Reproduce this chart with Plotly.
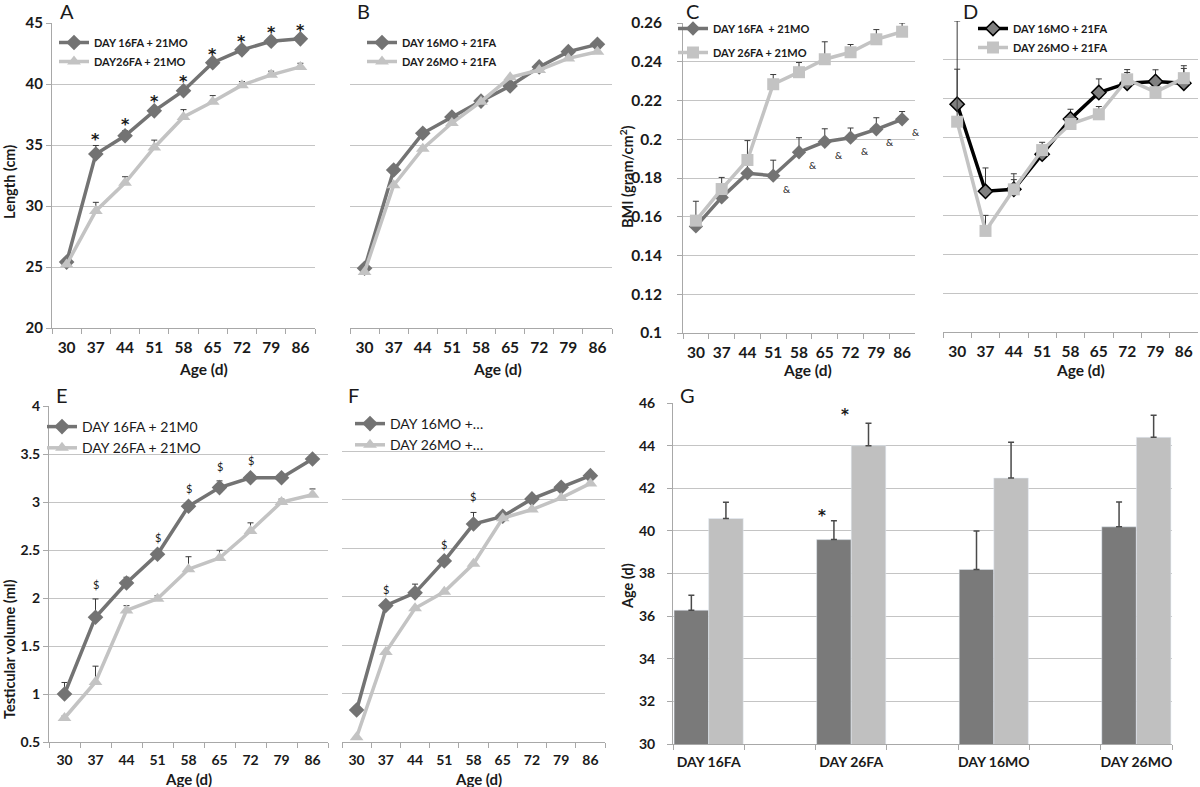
import plotly.graph_objects as go

# ---------------- data ----------------
ages = ["30", "37", "44", "51", "58", "65", "72", "79", "86"]

# Panel A - Length (cm)
a_16fa = [25.4, 34.26, 35.76, 37.8, 39.45, 41.75, 42.8, 43.5, 43.7]
a_16fa_err = [0.2, 0.7, 0.4, 0.25, 0.25, 0.2, 0.2, 0.2, 0.2]
a_26fa = [25.2, 29.6, 31.9, 34.8, 37.3, 38.55, 39.9, 40.75, 41.4]
a_26fa_err = [0.2, 0.7, 0.5, 0.6, 0.6, 0.5, 0.3, 0.3, 0.3]
a_sig = ["", "*", "*", "*", "*", "*", "*", "*", "*"]

# Panel B - Length (cm)
b_16mo = [24.9, 32.95, 35.96, 37.3, 38.6, 39.84, 41.4, 42.65, 43.25]
b_26mo = [24.6, 31.7, 34.7, 36.8, 38.55, 40.55, 41.15, 42.1, 42.65]

# Panel C - BMI
c_16fa = [0.155, 0.170, 0.1824, 0.1812, 0.1933, 0.1987, 0.2008, 0.2051, 0.2103]
c_16fa_err = [0.0, 0.0, 0.008, 0.008, 0.0075, 0.0067, 0.005, 0.006, 0.004]
c_26fa = [0.158, 0.1743, 0.1893, 0.2284, 0.2346, 0.2413, 0.2449, 0.2516, 0.2555]
c_26fa_err = [0.01, 0.006, 0.01, 0.005, 0.005, 0.009, 0.004, 0.005, 0.0045]
c_sig = ["", "", "", "&", "&", "&", "&", "&", "&"]

# Panel D - BMI
d_16mo = [0.2172, 0.1724, 0.1734, 0.1915, 0.2096, 0.2232, 0.228, 0.2289, 0.228]
d_16mo_err = [0.0428, 0.012, 0.008, 0.004, 0.005, 0.007, 0.007, 0.006, 0.009]
d_26mo = [0.2082, 0.152, 0.1734, 0.1936, 0.207, 0.212, 0.23, 0.2234, 0.2306]
d_26mo_err = [0.027, 0.008, 0.005, 0.004, 0.002, 0.004, 0.0035, 0.0, 0.005]

# Panel E - Testicular volume (ml)
e_16fa = [1.0, 1.80, 2.156, 2.455, 2.955, 3.15, 3.253, 3.253, 3.448]
e_16fa_err = [0.12, 0.19, 0.06, 0.03, 0.04, 0.07, 0.03, 0.03, 0.04]
e_26fa = [0.75, 1.125, 1.87, 1.993, 2.30, 2.417, 2.698, 3.0, 3.076]
e_26fa_err = [0.02, 0.165, 0.05, 0.03, 0.13, 0.08, 0.085, 0.03, 0.06]
e_sig = ["", "$", "", "$", "$", "$", "$", "", ""]

# Panel F - Testicular volume (ml)
f_16mo = [0.83, 1.91, 2.04, 2.37, 2.75, 2.83, 3.01, 3.13, 3.25]
f_16mo_err = [0.0, 0.0, 0.09, 0.0, 0.12, 0.03, 0.0, 0.0, 0.0]
f_26mo = [0.55, 1.43, 1.88, 2.05, 2.34, 2.81, 2.90, 3.02, 3.17]
f_sig = ["", "$", "", "$", "$", "", "", "", ""]

# Panel G - Age (d)
g_groups = ["DAY 16FA", "DAY 26FA", "DAY 16MO", "DAY 26MO"]
g_dark = [36.28, 39.59, 38.19, 40.19]
g_dark_err = [0.7, 0.89, 1.8, 1.16]
g_light = [40.58, 44.0, 42.48, 44.39]
g_light_err = [0.76, 1.05, 1.68, 1.03]
g_sig_dark = ["", "*", "", ""]
g_sig_light = ["", "*", "", ""]

# ---------------- style ----------------
W, H = 1200, 787
FONT = "Lato"
TXT = "#1a1a1a"
GRID = "#c4c4c4"
AXL = "#a8a8a8"
DARK = "#737373"
LIGHT = "#c3c3c3"
ERRC = "#3a3a3a"


def fx(p):
    return p / W


def fy(p):
    return 1 - p / H


fig = go.Figure()


def add_line(ax, y, err, name, color, symbol, size, legend, lw=3.5, mline=None, mfill=None):
    n = len(y)
    kw = {}
    if err is not None:
        kw["error_y"] = dict(type="data", symmetric=False, array=err, arrayminus=[0] * n,
                             color=ERRC, thickness=1, width=3)
    fig.add_trace(go.Scatter(
        x=ages, y=y, name=name, mode="lines+markers",
        xaxis="x" + ("" if ax == 1 else str(ax)), yaxis="y" + ("" if ax == 1 else str(ax)),
        line=dict(color=color, width=lw),
        marker=dict(symbol=symbol, size=size, color=mfill or color,
                    line=dict(color=mline or color, width=1.5 if mline else 0)),
        legend=legend, legendgroup=name, **kw))


# A
add_line(1, a_16fa, a_16fa_err, "DAY 16FA + 21MO", DARK, "diamond", 12, "legend")
add_line(1, a_26fa, a_26fa_err, "DAY26FA + 21MO", LIGHT, "triangle-up", 12, "legend")
# B
add_line(2, b_16mo, None, "DAY 16MO + 21FA", DARK, "diamond", 12, "legend2")
add_line(2, b_26mo, None, "DAY 26MO + 21FA", LIGHT, "triangle-up", 12, "legend2")
# C
add_line(3, c_16fa, c_16fa_err, "DAY 16FA\u00a0 + 21MO", DARK, "diamond", 11, "legend3")
add_line(3, c_26fa, c_26fa_err, "DAY 26FA + 21MO", LIGHT, "square", 12, "legend3")
# D
add_line(4, d_16mo, d_16mo_err, "DAY 16MO + 21FA", "#000000", "diamond", 11, "legend4",
         mline="#000000", mfill="#808080")
add_line(4, d_26mo, d_26mo_err, "DAY 26MO + 21FA", LIGHT, "square", 12, "legend4")
# E
add_line(5, e_16fa, e_16fa_err, "DAY 16FA + 21M0", DARK, "diamond", 12, "legend5")
add_line(5, e_26fa, e_26fa_err, "DAY 26FA + 21MO", LIGHT, "triangle-up", 12, "legend5")
# F
add_line(6, f_16mo, f_16mo_err, "DAY 16MO +…", DARK, "diamond", 12, "legend6")
add_line(6, f_26mo, None, "DAY 26MO +…", LIGHT, "triangle-up", 12, "legend6")

# G bars (categories with empty spacer slots between groups)
g_slots = []
for i, g in enumerate(g_groups):
    g_slots.append(g)
    if i < len(g_groups) - 1:
        g_slots.append(" " * (i + 1))

fig.add_trace(go.Bar(x=g_groups, y=g_dark, xaxis="x7", yaxis="y7", marker_color="#7a7a7a",
                     showlegend=False,
                     error_y=dict(type="data", symmetric=False, array=g_dark_err,
                                  arrayminus=[0] * 4, color="#4a4a4a", thickness=1.5, width=3)))
fig.add_trace(go.Bar(x=g_groups, y=g_light, xaxis="x7", yaxis="y7", marker_color="#c0c0c0",
                     showlegend=False,
                     error_y=dict(type="data", symmetric=False, array=g_light_err,
                                  arrayminus=[0] * 4, color="#4a4a4a", thickness=1.5, width=3)))

# ---------------- axes ----------------
panels = {
    1: dict(x=(52, 315), y=(23, 328), rng=[20, 45], dt=5, lab=True, yline=True),
    2: dict(x=(350, 612), y=(23, 328), rng=[20, 45], dt=5, lab=False, yline=False),
    3: dict(x=(683, 915), y=(23, 333), rng=[0.1, 0.26], dt=0.02, lab=True, yline=True),
    4: dict(x=(943, 1198), y=(21, 332), rng=[0.1, 0.26], dt=0.02, lab=False, yline=False),
    5: dict(x=(49, 328), y=(406, 742), rng=[0.5, 4], dt=0.5, lab=True, yline=True),
    6: dict(x=(342, 605), y=(403, 742), rng=[0.5, 4], dt=0.5, lab=False, yline=False),
    7: dict(x=(673, 1172), y=(403, 744), rng=[30, 46], dt=2, lab=True, yline=True),
}
xtick_size = {1: 15.5, 2: 15.5, 3: 15.5, 4: 15.5, 5: 14, 6: 14, 7: 14}
ytick_size = {1: 15, 3: 15.5, 5: 14, 7: 14}
ystand = {1: 0, 3: 12, 5: 0, 7: 9}

lay = {}
for k, p in panels.items():
    sfx = "" if k == 1 else str(k)
    lay["xaxis" + sfx] = dict(
        domain=[fx(p["x"][0]), fx(p["x"][1])], anchor="y" + sfx,
        type="category", tickson="boundaries", ticks="outside", ticklen=5,
        tickcolor=AXL, showline=True, linecolor=AXL, linewidth=1, showgrid=False,
        categoryorder="array", categoryarray=g_slots if k == 7 else ages,
        range=[-0.5, (len(g_slots) if k == 7 else len(ages)) - 0.5],
        tickangle=0, automargin=False,
        tickfont=dict(family=FONT, size=xtick_size[k], color=TXT, weight="bold"),
        ticklabelstandoff=5, fixedrange=True)
    lay["yaxis" + sfx] = dict(
        domain=[fy(p["y"][1]), fy(p["y"][0])], anchor="x" + sfx,
        range=p["rng"], dtick=p["dt"], tick0=p["rng"][0],
        showgrid=True, gridcolor=GRID, gridwidth=1, zeroline=False,
        showline=p["yline"], linecolor=AXL, linewidth=1,
        ticks="outside" if p["yline"] else "", ticklen=5, tickcolor=AXL,
        showticklabels=p["lab"], automargin=False,
        tickfont=dict(family=FONT, size=ytick_size.get(k, 13), color=TXT, weight="bold"),
        ticklabelstandoff=ystand.get(k, 0), fixedrange=True)

# ---------------- legends ----------------
def legend_at(xp, yp, size, bold, gap):
    return dict(x=fx(xp), y=fy(yp), xanchor="left", yanchor="top",
                font=dict(family=FONT, size=size, color=TXT, weight="bold" if bold else "normal"),
                bgcolor="rgba(255,255,255,0)", borderwidth=0, tracegroupgap=gap,
                itemwidth=30)

lay["legend"] = legend_at(54, 28, 11, True, 0)
lay["legend2"] = legend_at(362, 28, 11, True, 0)
lay["legend3"] = legend_at(673, 14, 11, True, 5)
lay["legend4"] = legend_at(973, 14, 11, True, 0)
lay["legend5"] = legend_at(42, 411, 14, False, 0)
lay["legend6"] = legend_at(350, 408, 14, False, 0)

# ---------------- annotations ----------------
ann = []

def txt(x, y, s, size, bold=False, xref="paper", yref="paper", family=FONT, **kw):
    d = dict(x=x, y=y, text=s, xref=xref, yref=yref, showarrow=False,
             xanchor="center", yanchor="middle",
             font=dict(family=family, size=size, color=TXT, weight="bold" if bold else "normal"))
    d.update(kw)
    ann.append(d)

# panel letters
for letter, (xp, yp) in {"A": (67, 11), "B": (363, 11), "C": (692, 11), "D": (970, 11),
                         "E": (62, 395), "F": (353, 395), "G": (687, 395)}.items():
    txt(fx(xp), fy(yp), letter, 20)

# axis titles
for (xp, yp, s, sz) in [(203, 369, "Age (d)", 15.5), (497, 369, "Age (d)", 15.5),
                        (807, 370, "Age (d)", 15.5), (1080, 370, "Age (d)", 15.5),
                        (188, 779, "Age (d)", 15), (478, 779, "Age (d)", 15)]:
    txt(fx(xp), fy(yp), s, sz, bold=True)
for (xp, yp, s, sz) in [(9, 182, "Length (cm)", 14.5), (626, 176, "BMI (gram/cm<sup>2</sup>)", 14.5),
                        (9, 650, "Testicular volume (ml)", 14.5), (627, 586, "Age (d)", 14.5)]:
    txt(fx(xp), fy(yp), s, sz, bold=True, textangle=-90)

# significance marks
STAR = "DejaVu Sans"
for i, s in enumerate(a_sig):
    if s:
        txt(i, a_16fa[i] + a_16fa_err[i], s, 16, bold=True, family=STAR, xref="x", yref="y", yshift=6)
for i, s in enumerate(c_sig):
    if s:
        txt(i, c_16fa[i], s, 10, xref="x3", yref="y3", xshift=14, yshift=-13)
for i, s in enumerate(e_sig):
    if s:
        txt(i, e_16fa[i] + e_16fa_err[i], s, 11, xref="x5", yref="y5", yshift=14)
for i, s in enumerate(f_sig):
    if s:
        txt(i, f_16mo[i] + f_16mo_err[i], s, 11, xref="x6", yref="y6", yshift=16)
for i, s in enumerate(g_sig_dark):
    if s:
        txt(g_slots.index(g_groups[i]) - 0.245, g_dark[i] + g_dark_err[i], s, 15, bold=True,
            family=STAR, xref="x7", yref="y7", xshift=-12, yshift=5)
for i, s in enumerate(g_sig_light):
    if s:
        txt(g_slots.index(g_groups[i]) + 0.245, g_light[i] + g_light_err[i], s, 15, bold=True,
            family=STAR, xref="x7", yref="y7", xshift=-24, yshift=8)

fig.update_layout(
    width=W, height=H, autosize=False, margin=dict(l=0, r=0, t=0, b=0, pad=0),
    paper_bgcolor="white", plot_bgcolor="white",
    barmode="group", bargap=0.03, bargroupgap=0,
    font=dict(family=FONT, color=TXT),
    annotations=ann, **lay)

fig.write_html("out.html", config={"displayModeBar": False},
               post_script="document.body.style.margin='0';")
